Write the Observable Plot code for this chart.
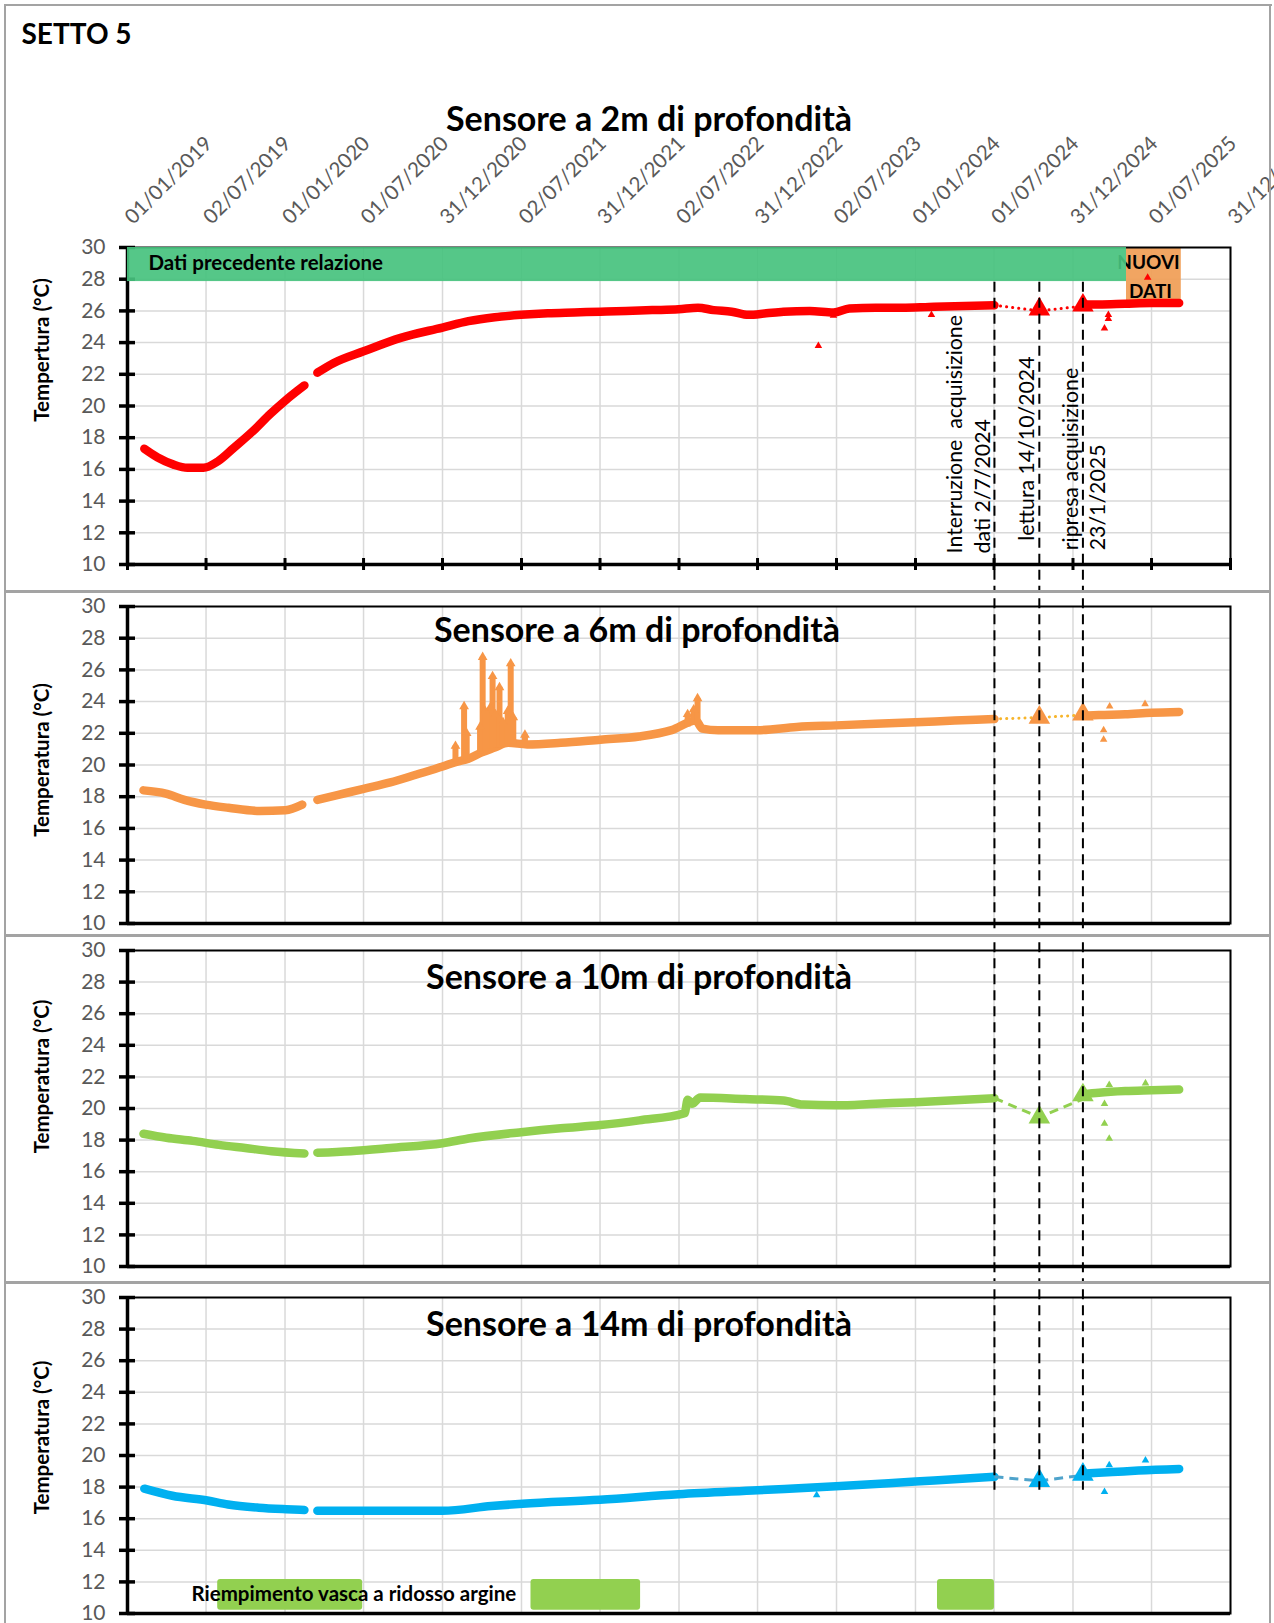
<!DOCTYPE html>
<html><head><meta charset="utf-8">
<script src="https://cdn.jsdelivr.net/npm/d3@7"></script>
<script src="https://cdn.jsdelivr.net/npm/@observablehq/plot@0.6"></script>
<style>
body{margin:0;background:#fff;}
#wrap{position:relative;width:1274px;height:1623px;overflow:hidden;font-family:Lato,"Open Sans",sans-serif;}
#wrap svg{position:absolute;left:0;}
#wrap svg text{white-space:pre;}
.ln{position:absolute;background:#a3a3a3;}
</style></head><body><div id="wrap"></div>
<script>
// ---------- axis / labels ----------
const xTickLabels = ["01/01/2019","02/07/2019","01/01/2020","01/07/2020","31/12/2020","02/07/2021","31/12/2021","02/07/2022","31/12/2022","02/07/2023","01/01/2024","01/07/2024","31/12/2024","01/07/2025","31/12/2025"];
const yTicks = [10,12,14,16,18,20,22,24,26,28,30];
const sheetTitle = "SETTO 5";
const panelTitles = ["Sensore a 2m di profondità","Sensore a 6m di profondità","Sensore a 10m di profondità","Sensore a 14m di profondità"];
const yLabels = ["Tempertura (°C)","Temperatura (°C)","Temperatura (°C)","Temperatura (°C)"];
const eventDates = ["2024-07-02","2024-10-14","2025-01-23"];
const eventNotes = ["Interruzione  acquisizione","dati 2/7/2024","lettura 14/10/2024","ripresa acquisizione","23/1/2025"];
const prevDataLabel = "Dati precedente relazione";
const prevDataSpan = ["2019-01-01","2025-05-04"];
const newDataLabel = ["NUOVI","DATI"];
const newDataSpan = ["2025-05-04","2025-09-08"];
const fillingLabel = "Riempimento vasca a ridosso argine";
const fillingPeriods = [["2019-07-29","2020-06-29"],["2021-07-24","2022-04-04"],["2024-02-21","2024-07-02"]];

// ---------- 2 m ----------
const s2_a = [["2019-02-09",17.3],["2019-03-12",16.75],["2019-04-18",16.3],["2019-05-20",16.1],["2019-06-26",16.1],["2019-07-29",16.5],["2019-09-04",17.35],["2019-10-20",18.45],["2019-11-28",19.5],["2020-01-02",20.35],["2020-02-15",21.3]];
const s2_b = [["2020-03-16",22.1],["2020-04-22",22.7],["2020-07-01",23.45],["2020-09-25",24.3],["2020-12-31",24.95],["2021-03-01",25.35],["2021-05-01",25.6],["2021-07-01",25.75],["2021-09-01",25.85],["2021-11-01",25.9],["2022-01-01",25.95],["2022-03-01",26.0],["2022-05-01",26.05],["2022-07-01",26.1],["2022-08-15",26.2],["2022-09-20",26.05],["2022-11-01",25.95],["2022-12-10",25.75],["2023-01-20",25.85],["2023-03-01",25.95],["2023-05-01",26.0],["2023-06-25",25.9],["2023-08-01",26.15],["2023-10-01",26.2],["2023-12-01",26.2],["2024-02-01",26.25],["2024-04-01",26.3],["2024-07-02",26.35]];
const s2_c = [["2025-01-23",26.4],["2025-03-01",26.4],["2025-05-01",26.45],["2025-07-01",26.5],["2025-09-03",26.5]];
const s2_out = [["2023-05-21",23.8],["2023-06-25",25.7],["2024-02-07",25.75],["2025-03-14",24.9],["2025-03-23",25.5],["2025-03-23",25.75],["2025-06-22",28.1]];
const s2_read = [["2024-10-14",26.1],["2025-01-23",26.35]];
const s2_link = [["2024-07-02",26.35],["2024-10-14",26.0],["2025-01-23",26.3]];

// ---------- 6 m ----------
const s6_a = [["2019-02-07",18.4],["2019-03-31",18.2],["2019-05-13",17.8],["2019-07-01",17.5],["2019-08-23",17.3],["2019-11-03",17.1],["2020-01-02",17.15],["2020-02-10",17.5]];
const s6_b = [["2020-03-16",17.8],["2020-05-01",18.1],["2020-07-01",18.5],["2020-09-01",18.9],["2020-11-01",19.4],["2020-12-31",19.9],["2021-02-01",20.2],["2021-03-01",20.4],["2021-04-01",20.8],["2021-05-01",21.1],["2021-06-01",21.4],["2021-07-15",21.3],["2021-10-01",21.4],["2022-01-01",21.6],["2022-04-01",21.8],["2022-06-15",22.2],["2022-08-10",22.8],["2022-08-25",22.3],["2022-10-01",22.2],["2022-12-31",22.2],["2023-04-01",22.4],["2023-07-01",22.5],["2023-10-01",22.6],["2024-01-01",22.7],["2024-04-01",22.8],["2024-07-02",22.9]];
const s6_c = [["2025-01-23",23.1],["2025-03-01",23.15],["2025-05-01",23.2],["2025-07-01",23.3],["2025-09-03",23.35]];
const s6_spikes = [["2021-01-30",20.2,21.2],["2021-02-19",20.3,23.7],["2021-02-25",20.4,22.0],["2021-03-28",20.7,22.4],["2021-04-03",20.8,26.8],["2021-04-09",20.9,23.4],["2021-04-20",21.0,23.6],["2021-04-26",21.0,25.6],["2021-05-03",21.1,23.2],["2021-05-12",21.1,24.9],["2021-05-20",21.2,22.7],["2021-05-31",21.3,23.4],["2021-06-07",21.3,26.4],["2021-06-13",21.3,23.0],["2021-07-10",21.3,21.9],["2022-07-22",22.4,23.2],["2022-08-05",22.5,23.5],["2022-08-14",22.6,24.2]];
const s6_out = [["2025-03-12",22.2],["2025-03-12",21.6],["2025-03-26",23.7],["2025-06-16",23.85]];
const s6_read = [["2024-10-14",23.0],["2025-01-23",23.2]];
const s6_link = [["2024-07-02",22.9],["2024-10-14",23.0],["2025-01-23",23.15]];

// ---------- 10 m ----------
const s10_a = [["2019-02-07",18.4],["2019-04-01",18.15],["2019-06-01",17.95],["2019-08-01",17.7],["2019-10-01",17.5],["2019-12-01",17.3],["2020-02-15",17.15]];
const s10_b = [["2020-03-16",17.2],["2020-06-01",17.3],["2020-09-01",17.5],["2020-12-31",17.8],["2021-03-01",18.1],["2021-07-01",18.5],["2021-10-01",18.75],["2022-01-01",18.95],["2022-04-01",19.25],["2022-07-15",19.7],["2022-07-22",20.55],["2022-08-01",20.3],["2022-08-20",20.7],["2022-12-01",20.6],["2023-03-01",20.5],["2023-04-15",20.25],["2023-07-01",20.2],["2023-10-01",20.3],["2024-01-01",20.4],["2024-07-02",20.65]];
const s10_c = [["2025-01-23",20.9],["2025-03-01",21.0],["2025-05-01",21.1],["2025-07-01",21.15],["2025-09-03",21.2]];
const s10_out = [["2025-03-14",20.3],["2025-03-14",19.05],["2025-03-25",18.1],["2025-03-25",21.5],["2025-06-17",21.6]];
const s10_read = [["2024-10-14",19.45],["2025-01-23",20.85]];
const s10_link = [["2024-07-02",20.65],["2024-10-14",19.45],["2025-01-23",20.6]];

// ---------- 14 m ----------
const s14_a = [["2019-02-09",17.9],["2019-04-15",17.45],["2019-07-05",17.15],["2019-08-22",16.9],["2019-11-01",16.7],["2020-01-04",16.6],["2020-02-15",16.55]];
const s14_b = [["2020-03-16",16.5],["2020-07-01",16.5],["2020-12-31",16.5],["2021-04-23",16.8],["2021-07-04",16.95],["2021-12-31",17.2],["2022-07-01",17.55],["2022-12-31",17.8],["2023-07-01",18.05],["2024-01-01",18.35],["2024-07-02",18.65]];
const s14_c = [["2025-01-23",18.85],["2025-04-01",18.95],["2025-06-01",19.05],["2025-09-03",19.15]];
const s14_out = [["2023-05-17",17.5],["2025-03-14",17.7],["2025-03-25",19.4],["2025-06-17",19.7]];
const s14_read = [["2024-10-14",18.4],["2025-01-23",18.8]];
const s14_link = [["2024-07-02",18.65],["2024-10-14",18.4],["2025-01-23",18.75]];

// ---------- helpers ----------
const parseDMY = s => { const [d,m,y] = s.split("/").map(Number); return new Date(Date.UTC(y, m-1, d)); };
const xTickDates = xTickLabels.map(parseDMY);
const xDomain = [xTickDates[0], xTickDates[xTickDates.length-1]];
const rows = arr => arr.map(([d,v]) => ({date: new Date(d), v}));
const segRows = segs => segs.flatMap((s,i) => s.map(([d,v]) => ({date: new Date(d), v, seg: i})));
const FONT = "Lato, 'Open Sans', sans-serif";

const panels = [
  {i:0, color:"#FF0000", band:[s2_a,s2_b,s2_c], spikes:[], out:s2_out, read:s2_read, link:s2_link, linkColor:"#FF0000", linkDash:"0.1,6", linkCap:"round",
   top:0, height:591, mt:247, mb:27, titleDx:-30, titleDy:-127, ylabDy:-56, dash:[27.8, 8]},
  {i:1, color:"#F79646", band:[s6_a,s6_b,s6_c], spikes:s6_spikes, out:s6_out, read:s6_read, link:s6_link, linkColor:"#F7B52C", linkDash:"0.1,6", linkCap:"round",
   top:591, height:344, mt:15, mb:12, titleDx:-42, titleDy:25, ylabDy:-5, dash:[31.5, 8]},
  {i:2, color:"#92D050", band:[s10_a,s10_b,s10_c], spikes:[], out:s10_out, read:s10_read, link:s10_link, linkColor:"#92D050", linkDash:"9,6", linkCap:"butt",
   top:935, height:347, mt:15, mb:16, titleDx:-40, titleDy:28, ylabDy:-32, dash:[31.5, 8]},
  {i:3, color:"#00B0F0", band:[s14_a,s14_b,s14_c], spikes:[], out:s14_out, read:s14_read, link:s14_link, linkColor:"#4FA3CB", linkDash:"9,6", linkCap:"butt",
   top:1282, height:341, mt:15, mb:10, titleDx:-40, titleDy:28, ylabDy:-18, dash:[31.5, 17.8]}
];

function build(p) {
  const before = [], after = [];
  if (p.i === 0) {
    before.push(Plot.rect([newDataSpan], {x1: d => new Date(d[0]), x2: d => new Date(d[1]), y1: 26.5, y2: 30, fill: "#F0A05A", fillOpacity: 0.95}));
    after.push(
      Plot.text([newDataLabel[0]], {x: () => new Date(newDataSpan[0]), dx: 22, y: 29.0, text: d => d, textAnchor: "middle", fontSize: 19, fontWeight: "bold", fill: "black"}),
      Plot.text([newDataLabel[1]], {x: () => new Date(newDataSpan[0]), dx: 24, y: 27.2, text: d => d, textAnchor: "middle", fontSize: 19, fontWeight: "bold", fill: "black"}),
      Plot.rect([prevDataSpan], {x1: d => new Date(d[0]), x2: d => new Date(d[1]), y1: 27.85, y2: 30, fill: "#47C27E", fillOpacity: 0.92}),
      Plot.text([prevDataLabel], {frameAnchor: "top-left", dx: 21, dy: 16, text: d => d, textAnchor: "start", lineAnchor: "middle", fontSize: 20.5, fontWeight: "bold", fill: "black"}),
      Plot.axisX({ticks: xTickDates, tickSize: 12, dy: -6, tickFormat: () => "", label: null, strokeWidth: 3, color: "black"}),
      Plot.text(xTickLabels, {x: parseDMY, text: d => d, frameAnchor: "top", rotate: -45, textAnchor: "start", lineAnchor: "middle", dx: 1, dy: -27, fontSize: 20.5, fill: "#595959"}),
      Plot.text([sheetTitle], {frameAnchor: "top-left", dx: -106, dy: -212, text: d => d, textAnchor: "start", lineAnchor: "middle", fontSize: 28, fontWeight: "bold", fill: "black"}),
      Plot.text([eventNotes[0]], {x: () => new Date(eventDates[0]), dx: -39, y: 10.7, text: d => d, rotate: -90, textAnchor: "start", fontSize: 21.3, fill: "black"}),
      Plot.text([eventNotes[1]], {x: () => new Date(eventDates[0]), dx: -11, y: 10.7, text: d => d, rotate: -90, textAnchor: "start", fontSize: 21.3, fill: "black"}),
      Plot.text([eventNotes[2]], {x: () => new Date(eventDates[1]), dx: -12, y: 11.5, text: d => d, rotate: -90, textAnchor: "start", fontSize: 21.3, fill: "black"}),
      Plot.text([eventNotes[3]], {x: () => new Date(eventDates[2]), dx: -12, y: 10.9, text: d => d, rotate: -90, textAnchor: "start", fontSize: 21.3, fill: "black"}),
      Plot.text([eventNotes[4]], {x: () => new Date(eventDates[2]), dx: 15, y: 10.9, text: d => d, rotate: -90, textAnchor: "start", fontSize: 21.3, fill: "black"})
    );
  }
  if (p.i === 3) {
    before.push(Plot.rect(fillingPeriods, {x1: d => new Date(d[0]), x2: d => new Date(d[1]), y1: 10.2, y2: 12.15, fill: "#92D050", rx: 3}));
    before.push(Plot.text([fillingLabel], {frameAnchor: "left", dx: 64, y: 11.2, text: d => d, textAnchor: "start", fontSize: 20.5, fontWeight: "bold", fill: "black"}));
  }
  const marks = [
    Plot.gridX({ticks: xTickDates.slice(1), stroke: "#d9d9d9", strokeOpacity: 1, strokeWidth: 1.5}),
    Plot.gridY({ticks: yTicks.slice(1, -1), stroke: "#d9d9d9", strokeOpacity: 1, strokeWidth: 1.5}),
    ...before,
    Plot.line(segRows(p.band), {x: "date", y: "v", z: "seg", stroke: p.color, strokeWidth: 8.5, curve: "monotone-x", strokeLinecap: "round", strokeLinejoin: "round"}),
    Plot.ruleX(p.spikes, {x: d => new Date(d[0]), y1: d => d[1], y2: d => d[2], stroke: p.color, strokeWidth: 6}),
    Plot.dot(p.spikes, {x: d => new Date(d[0]), y: d => d[2], symbol: "triangle", r: 3.6, fill: p.color}),
    Plot.line(rows(p.link), {x: "date", y: "v", stroke: p.linkColor, strokeWidth: 3, strokeDasharray: p.linkDash, strokeLinecap: p.linkCap}),
    Plot.dot(rows(p.out), {x: "date", y: "v", symbol: "triangle", r: 2.8, fill: p.color}),
    Plot.dot(rows(p.read), {x: "date", y: "v", symbol: "triangle", r: 8, fill: p.color}),
    Plot.frame({stroke: "black", strokeWidth: 2}),
    Plot.ruleX([xDomain[0]], {stroke: "black", strokeWidth: 3.5}),
    Plot.ruleY([10], {stroke: "black", strokeWidth: 3.5}),
    Plot.axisY({ticks: yTicks, tickSize: 16, dx: 8, tickFormat: () => "", label: null, strokeWidth: 3.5, color: "black"}),
    Plot.axisY({ticks: yTicks, tickSize: 0, tickPadding: 22, label: null, fontSize: 21, color: "#595959"}),
    ...after,
    Plot.ruleX(eventDates.map(d => new Date(d)), {y1: p.dash[0], y2: p.dash[1], stroke: "black", strokeWidth: 2, strokeDasharray: "10,6"}),
    Plot.text([panelTitles[p.i]], {frameAnchor: "top", dx: p.titleDx, dy: p.titleDy, text: d => d, lineAnchor: "middle", fontSize: 34, fontWeight: "bold", fill: "black"}),
    Plot.text([yLabels[p.i]], {frameAnchor: "left", dx: -85, dy: p.ylabDy, text: d => d, rotate: -90, textAnchor: "middle", lineAnchor: "middle", fontSize: 20.5, fontWeight: "bold", fill: "black"})
  ];
  const svg = Plot.plot({
    width: 1274, height: p.height,
    marginLeft: 127, marginRight: 44, marginTop: p.mt, marginBottom: p.mb,
    x: {type: "utc", domain: xDomain, axis: null, label: null},
    y: {domain: [10, 30], axis: null, label: null},
    style: {fontFamily: FONT, background: "transparent"},
    marks
  });
  svg.style.top = p.top + "px";
  return svg;
}

const wrap = document.getElementById("wrap");
panels.forEach(p => wrap.appendChild(build(p)));

// panel borders
[[5,4,1267,2],[4,4,2,1619],[1269,4,2,1619],[4,590,1267,3],[4,934,1267,3],[4,1281,1267,3]].forEach(([l,t,w,h]) => {
  const d = document.createElement("div");
  d.className = "ln";
  Object.assign(d.style, {left: l+"px", top: t+"px", width: w+"px", height: h+"px"});
  wrap.appendChild(d);
});
</script></body></html>
